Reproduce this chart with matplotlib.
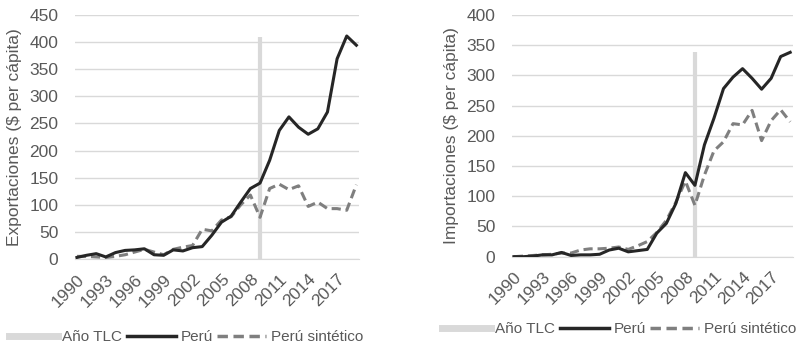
import numpy as np
import matplotlib.pyplot as plt
from matplotlib.lines import Line2D

plt.rcParams['font.family'] = ['Liberation Sans', 'DejaVu Sans']

years = np.arange(1990, 2020)
tlc_year = 2009

exp_peru = [3, 7, 10, 4, 12, 16, 17, 19, 8, 7, 17, 15, 21, 23, 44, 68, 79, 105, 130, 140,
            182, 237, 262, 243, 230, 240, 271, 369, 411, 394]
exp_sint = [5, 5, 4, 3, 5, 8, 13, 18, 13, 8, 18, 22, 25, 55, 52, 72, 78, 100, 118, 77,
            130, 138, 128, 135, 97, 105, 93, 93, 90, 137]
exp_tlc = 410

imp_peru = [0, 0, 1, 3, 3, 7, 2, 3, 3, 4, 11, 14, 8, 10, 12, 39, 55, 88, 139, 118,
            185, 229, 278, 297, 311, 295, 277, 295, 331, 338]
imp_sint = [0, 1, 2, 3, 4, 6, 6, 11, 13, 13, 14, 16, 12, 18, 25, 40, 60, 90, 125, 85,
            135, 175, 190, 220, 218, 242, 192, 225, 243, 223]
imp_tlc = 338

xticks = years[::3]

GRAY_TXT = '#595959'
GRID = '#D9D9D9'
DASH = (0, (3, 1.6))

fig = plt.figure(figsize=(8.03, 3.45), dpi=100)
ax1 = fig.add_axes([0.0934, 0.249, 0.354, 0.708])
ax2 = fig.add_axes([0.6376, 0.256, 0.350, 0.701])

panels = [
    (ax1, exp_peru, exp_sint, exp_tlc, 450, 'Exportaciones ($ per cápita)', 0.39, -0.32),
    (ax2, imp_peru, imp_sint, imp_tlc, 400, 'Importaciones ($ per cápita)', 0.38, -0.30),
]

for ax, peru, sint, tlc, ymax, ylab, lx, ly in panels:
    ax.vlines(tlc_year, 0, tlc, color=GRID, lw=3, zorder=2)
    ax.plot(years, peru, color='#262626', lw=2.2, zorder=4, solid_joinstyle='round')
    ax.plot(years, sint, color='#7F7F7F', lw=2.2, ls=DASH, zorder=3)
    ax.set_ylim(0, ymax)
    ax.set_xlim(1989.8, 2019.3)
    ax.set_yticks(np.arange(0, ymax + 1, 50))
    ax.set_xticks(xticks)
    ax.set_xticklabels([str(y) for y in xticks], rotation=45, ha='right', va='top',
                       rotation_mode='anchor')
    ax.grid(axis='y', color=GRID, lw=1)
    ax.set_axisbelow(True)
    for s in ['top', 'right', 'left']:
        ax.spines[s].set_visible(False)
    ax.spines['bottom'].set_color(GRID)
    ax.tick_params(axis='both', length=0, labelsize=12.5, labelcolor=GRAY_TXT)
    ax.tick_params(axis='x', pad=9)
    ax.tick_params(axis='y', pad=12)
    ax.set_ylabel(ylab, fontsize=12.5, color=GRAY_TXT, labelpad=5)

    handles = [Line2D([], [], color=GRID, lw=5),
               Line2D([], [], color='#262626', lw=2.5),
               Line2D([], [], color='#7F7F7F', lw=2.5, ls=DASH)]
    labels = ['Año TLC', 'Perú', 'Perú sintético']
    ax.legend(handles, labels, loc='center', bbox_to_anchor=(lx, ly), ncol=3,
              frameon=False, fontsize=11, handlelength=3.2, handletextpad=0.3,
              columnspacing=0.3, labelcolor=GRAY_TXT)

fig.savefig('out.png', dpi=100)
